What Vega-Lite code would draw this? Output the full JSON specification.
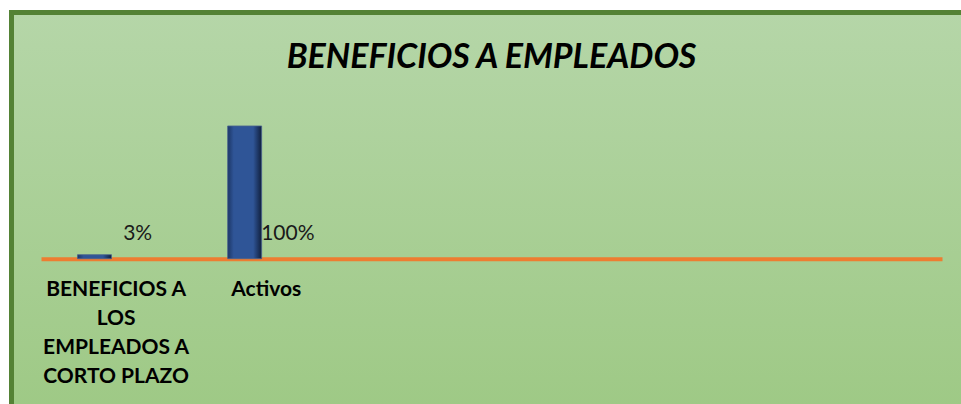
{
  "$schema": "https://vega.github.io/schema/vega-lite/v6.json",
  "width": 960,
  "height": 400,
  "autosize": "none",
  "padding": {"left": 11.5, "top": 12.5, "right": 0, "bottom": 0},
  "background": "white",
  "config": {
    "view": {
      "fill": {"gradient": "linear", "x1": 0, "y1": 0, "x2": 0, "y2": 1,
        "stops": [{"offset": 0, "color": "#b5d6a8"}, {"offset": 1, "color": "#9ec985"}]},
      "stroke": "#548235",
      "strokeWidth": 5
    }
  },
  "title": {
    "text": "BENEFICIOS A EMPLEADOS",
    "font": "Lato",
    "fontSize": 34,
    "fontWeight": "bold",
    "fontStyle": "italic",
    "color": "black",
    "anchor": "middle",
    "baseline": "alphabetic",
    "offset": -89
  },
  "data": {
    "values": [
      {"categoria": "BENEFICIOS A LOS EMPLEADOS A CORTO PLAZO", "valor": 0.03},
      {"categoria": "Activos", "valor": 1.0}
    ]
  },
  "encoding": {
    "x": {
      "field": "categoria",
      "type": "nominal",
      "sort": null,
      "scale": {
        "domain": ["BENEFICIOS A LOS EMPLEADOS A CORTO PLAZO", "Activos", "c3", "c4", "c5", "c6"],
        "range": [29.5, 930.5],
        "paddingInner": 0,
        "paddingOuter": 0
      },
      "axis": {
        "orient": "bottom",
        "offset": -153.8,
        "title": null,
        "domainColor": "#ed7d31",
        "domainWidth": 4,
        "ticks": false,
        "grid": false,
        "labelAngle": 0,
        "labelFont": "Lato",
        "labelFontSize": 21,
        "labelFontWeight": "bold",
        "labelColor": "black",
        "labelLineHeight": 29,
        "labelPadding": 20,
        "labelLimit": 0,
        "labelExpr": "datum.value == 'BENEFICIOS A LOS EMPLEADOS A CORTO PLAZO' ? ['BENEFICIOS A', 'LOS', 'EMPLEADOS A', 'CORTO PLAZO'] : (indexof(['c3','c4','c5','c6'], datum.value) >= 0 ? '' : datum.value)"
      }
    }
  },
  "layer": [
    {
      "mark": {
        "type": "bar",
        "fill": {"gradient": "linear", "x1": 0, "y1": 0, "x2": 1, "y2": 0,
          "stops": [
            {"offset": 0, "color": "#1c3666"},
            {"offset": 0.18, "color": "#2f5597"},
            {"offset": 0.75, "color": "#2f5597"},
            {"offset": 1, "color": "#101f3d"}
          ]},
        "stroke": "#4a638e",
        "strokeWidth": 0.8
      },
      "encoding": {
        "xOffset": {"datum": "s1", "type": "nominal", "scale": {"domain": ["s1", "s2"], "paddingInner": 0.213, "paddingOuter": 0.845}},
        "y": {"field": "valor", "type": "quantitative", "scale": {"domain": [-1.159, 1.855], "nice": false, "zero": false}, "axis": null},
        "y2": {"datum": 0}
      }
    },
    {
      "mark": {"type": "text", "font": "Lato", "fontSize": 21, "color": "#1a1a1a", "align": "center", "baseline": "alphabetic", "dy": -18.7},
      "encoding": {
        "xOffset": {"datum": "s2", "type": "nominal", "scale": {"domain": ["s1", "s2"], "paddingInner": 0.213, "paddingOuter": 0.845}},
        "y": {"datum": 0, "type": "quantitative"},
        "text": {"field": "valor", "type": "quantitative", "format": ".0%"}
      }
    }
  ]
}
